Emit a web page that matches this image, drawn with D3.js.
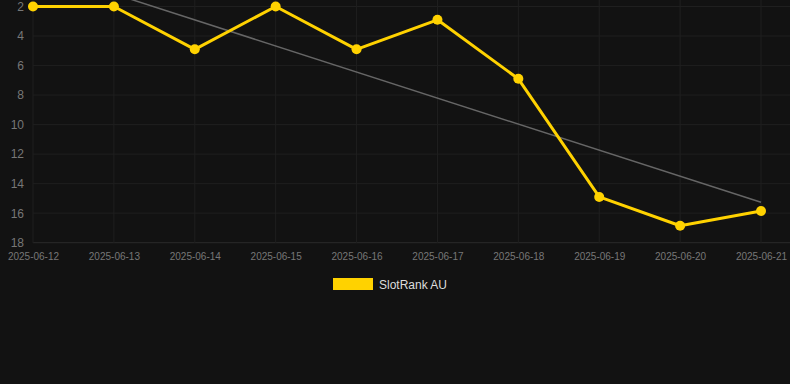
<!DOCTYPE html>
<html>
<head>
<meta charset="utf-8">
<script src="https://cdn.jsdelivr.net/npm/d3@7"></script>
<style>
  html, body { margin: 0; padding: 0; background: #121212; }
  svg { display: block; font-family: "Liberation Sans", Arial, sans-serif; }
</style>
</head>
<body>
<svg></svg>
<script>
const dates = ["2025-06-12", "2025-06-13", "2025-06-14", "2025-06-15", "2025-06-16",
               "2025-06-17", "2025-06-18", "2025-06-19", "2025-06-20", "2025-06-21"];
const ranks = [2, 2, 4.9, 2, 4.9, 2.9, 6.9, 14.9, 16.85, 15.85];
const yTicks = [2, 4, 6, 8, 10, 12, 14, 16, 18];
const seriesName = "SlotRank AU";

let width = 790, height = 384;
let svg = d3.select("svg").attr("width", width).attr("height", height);

let xScale = d3.scalePoint()
    .domain(dates)
    .range([33, 761]);

let yScale = d3.scaleLinear()
    .domain([2, 18])
    .range([6.5, 242.7]);

// plot clip
svg.append("clipPath").attr("id", "plot")
    .append("rect").attr("x", 33).attr("y", 0).attr("width", 757).attr("height", 243);

// grid lines
let grid = svg.append("g");
grid.selectAll("line.h")
    .data(yTicks)
    .enter().append("line")
    .attr("x1", 33).attr("x2", 790)
    .attr("y1", d => yScale(d)).attr("y2", d => yScale(d))
    .attr("stroke", d => d == 18 ? "#2a2a2a" : "#1f1f1f")
    .attr("stroke-width", 1);
grid.selectAll("line.v")
    .data(dates)
    .enter().append("line")
    .attr("x1", d => xScale(d)).attr("x2", d => xScale(d))
    .attr("y1", 0).attr("y2", 243)
    .attr("stroke", "#1f1f1f")
    .attr("stroke-width", 1);

// y axis labels
let yAxis = d3.axisLeft(yScale).tickValues(yTicks).tickSize(0).tickPadding(9);
let yAxisGroup = svg.append("g")
    .attr("transform", "translate(33,0)")
    .call(yAxis);
yAxisGroup.select(".domain").remove();
yAxisGroup.selectAll("text")
    .attr("fill", "#777")
    .style("font-size", "12px")
    .style("font-family", "Liberation Sans, Arial, sans-serif");

// x axis labels
let xAxis = d3.axisBottom(xScale).tickSize(0).tickPadding(10);
let xAxisGroup = svg.append("g")
    .attr("transform", "translate(0,243)")
    .call(xAxis);
xAxisGroup.select(".domain").remove();
xAxisGroup.selectAll("text")
    .attr("fill", "#777")
    .style("font-size", "10px")
    .style("font-family", "Liberation Sans, Arial, sans-serif");

// linear trend of the ranks
let n = ranks.length;
let mx = d3.mean(ranks, (d, i) => i), my = d3.mean(ranks);
let sxy = d3.sum(ranks, (d, i) => (i - mx) * (d - my));
let sxx = d3.sum(ranks, (d, i) => (i - mx) * (i - mx));
let slope = sxy / sxx, icpt = my - slope * mx;
svg.append("line")
    .attr("clip-path", "url(#plot)")
    .attr("x1", xScale(dates[0])).attr("y1", yScale(icpt))
    .attr("x2", xScale(dates[n - 1])).attr("y2", yScale(icpt + slope * (n - 1)))
    .attr("stroke", "#666")
    .attr("stroke-width", 1.5);

// series line
let line = d3.line()
    .x((d, i) => xScale(dates[i]))
    .y(d => yScale(d));
svg.append("path")
    .datum(ranks)
    .attr("d", line)
    .attr("fill", "none")
    .attr("stroke", "#ffd200")
    .attr("stroke-width", 3)
    .attr("stroke-linejoin", "round");

svg.selectAll("circle")
    .data(ranks)
    .enter().append("circle")
    .attr("cx", (d, i) => xScale(dates[i]))
    .attr("cy", d => yScale(d))
    .attr("r", 5)
    .attr("fill", "#ffd200");

// legend
let legend = svg.append("g").attr("transform", "translate(333,278)");
legend.append("rect")
    .attr("width", 40).attr("height", 12)
    .attr("fill", "#ffd200");
legend.append("text")
    .attr("x", 46).attr("y", 10.5)
    .attr("fill", "#ddd")
    .style("font-size", "12px")
    .text(seriesName);
</script>
</body>
</html>
